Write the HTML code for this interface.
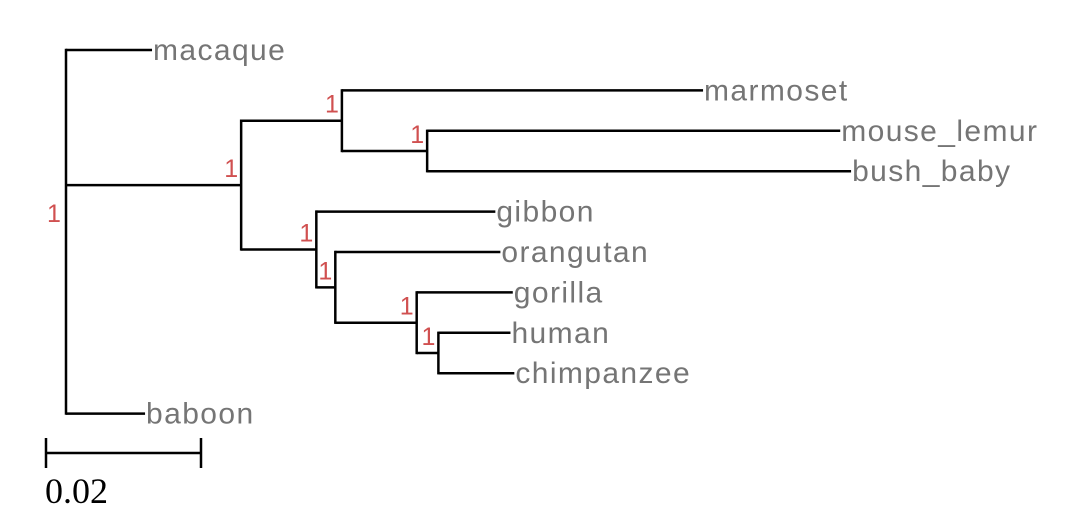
<!DOCTYPE html>
<html><head><meta charset="utf-8"><style>
body{margin:0;background:#fff;}
svg{display:block;}
</style></head><body>
<svg id="tree" width="1088" height="530" xmlns="http://www.w3.org/2000/svg"></svg>
<script>
// node names, parents, branch lengths, support values
const nodeNames = ["root","macaque","A","B","marmoset","C","mouse_lemur","bush_baby","D","gibbon","E","orangutan","F","gorilla","G","human","chimpanzee","baboon"];
const nodeParents = [-1,0,0,2,3,3,5,5,2,8,8,10,10,12,12,14,14,0];
const branchLengths = [0,0.0111,0.0226,0.0130,0.0466,0.0110,0.0533,0.0547,0.0097,0.0231,0.00245,0.0213,0.0105,0.0124,0.0028,0.0093,0.0098,0.0102];
const supportValues = [1,null,1,1,null,1,null,null,1,null,1,null,1,null,1,null,null,null];
const scaleBarValue = 0.02;
const scaleBarLabel = "0.02";

const NS="http://www.w3.org/2000/svg";
const svg=document.getElementById('tree');
const x0=66, pxPerUnit=7750, y0=50, leafGap=40.4;
const xScale=v=>x0+v*pxPerUnit;
const n=nodeNames.length;
const children=nodeNames.map(()=>[]);
nodeParents.forEach((p,i)=>{if(p>=0)children[p].push(i);});
const depth=new Array(n).fill(0), ypos=new Array(n).fill(0);
let leafIdx=0;
function layout(i,d){
  depth[i]=d+branchLengths[i];
  if(children[i].length===0){ypos[i]=y0+leafIdx*leafGap;leafIdx++;return;}
  children[i].forEach(c=>layout(c,depth[i]));
  const ys=children[i].map(c=>ypos[c]);
  ypos[i]=children[i].length===3?ypos[children[i][1]]:(Math.min(...ys)+Math.max(...ys))/2;
}
layout(0,0);
function line(x1,y1,x2,y2,name){
  const l=document.createElementNS(NS,'line');
  l.setAttribute('x1',x1);l.setAttribute('y1',y1);l.setAttribute('x2',x2);l.setAttribute('y2',y2);
  l.setAttribute('stroke','#000');l.setAttribute('stroke-width','2.5');
  
  
  svg.appendChild(l);
}
function text(x,y,s,size,fill,anchor,name,family,ls){
  const t=document.createElementNS(NS,'text');
  t.setAttribute('x',x);t.setAttribute('y',y);t.setAttribute('font-size',size);
  t.setAttribute('fill',fill);t.setAttribute('text-anchor',anchor||'start');
  t.setAttribute('font-family',family||'Liberation Sans, sans-serif');
  if(ls) t.setAttribute('letter-spacing',ls);
  t.textContent=s;
  
  
  svg.appendChild(t);
}
for(let i=0;i<n;i++){
  const p=nodeParents[i];
  const xs=xScale(depth[i]);
  if(p>=0) line(xScale(depth[p]),ypos[i],xs,ypos[i],'branch-'+nodeNames[i]);
  if(children[i].length){
    const ys=children[i].map(c=>ypos[c]);
    line(xs,Math.min(...ys)-1.2,xs,Math.max(...ys)+1.2,'node-'+nodeNames[i]);
    if(supportValues[i]!=null){
      if(i===0) text(xs-12,ypos[i]+37,String(supportValues[i]),25,'#d05050','middle','support-root');
      else text(xs-3,ypos[i]-8,String(supportValues[i]),25,'#d05050','end','support-'+nodeNames[i]);
    }
  } else {
    text(xs+1,ypos[i]+10,nodeNames[i],30,'#757575','start','leaf-label-'+nodeNames[i],null,'1.4');
  }
}
// scale bar
const sbx1=46, sbx2=46+scaleBarValue*pxPerUnit, sby=453;
line(sbx1,sby,sbx2,sby,'scale-bar');
line(sbx1,sby-15,sbx1,sby+15,'scale-bar-left-tick');
line(sbx2,sby-15,sbx2,sby+15,'scale-bar-right-tick');
text(45,503,scaleBarLabel,36,'#000','start','scale-bar-label','Liberation Serif, serif');
</script>
</body></html>
